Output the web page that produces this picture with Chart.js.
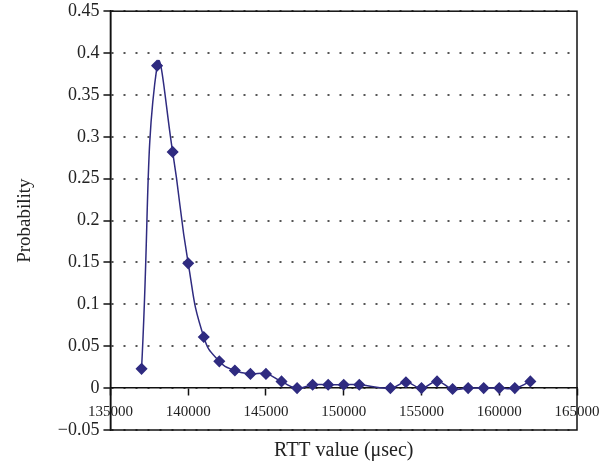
<!DOCTYPE html>
<html>
<head>
<meta charset="utf-8">
<script src="https://cdn.jsdelivr.net/npm/chart.js@4/dist/chart.umd.min.js"></script>
<style>
  html, body { margin: 0; padding: 0; background: #fff; }
  #wrap { width: 615px; height: 468px; }
</style>
</head>
<body>
<div id="wrap"><canvas id="chart"></canvas></div>
<script>
// RTT histogram values
const rttValues = [137000, 138000, 139000, 140000, 141000, 142000, 143000, 144000, 145000,
    146000, 147000, 148000, 149000, 150000, 151000, 153000, 154000, 155000, 156000,
    157000, 158000, 159000, 160000, 161000, 162000];
const probability = [0.023, 0.385, 0.282, 0.149, 0.061, 0.032, 0.021, 0.017, 0.017,
    0.008, 0.000, 0.004, 0.004, 0.004, 0.004, 0.000, 0.007, 0.000, 0.008,
    -0.001, 0.000, 0.000, 0.000, 0.000, 0.008];

const xTicks = [135000, 140000, 145000, 150000, 155000, 160000, 165000];
const yTicks = [-0.05, 0, 0.05, 0.1, 0.15, 0.2, 0.25, 0.3, 0.35, 0.4, 0.45];

const navy = '#2f2b80';
const serif = 'Liberation Serif';

// box round the plot area
const frame = {
    id: 'frame',
    beforeDatasetsDraw(chart) {
        const { ctx, chartArea: a } = chart;
        ctx.save();
        ctx.strokeStyle = '#111';
        ctx.lineWidth = 1.5;
        ctx.strokeRect(a.left, a.top, a.right - a.left, a.bottom - a.top);
        ctx.restore();
    }
};

function yLabel(v) {
    const s = String(Math.round(v * 100) / 100);
    return s.replace('-', '\u2212');
}

new Chart(document.getElementById('chart'), {
    type: 'line',
    data: {
        datasets: [{
            data: rttValues.map((x, i) => ({ x: x, y: probability[i] })),
            borderColor: navy,
            backgroundColor: navy,
            borderWidth: 1.5,
            tension: 0.5,
            pointStyle: 'rectRot',
            pointRadius: 5,
            pointHoverRadius: 5,
            fill: false
        }]
    },
    options: {
        responsive: true,
        maintainAspectRatio: false,
        animation: false,
        layout: { padding: { left: 10, right: 38, top: 0, bottom: 1 } },
        plugins: {
            legend: { display: false },
            tooltip: { enabled: false }
        },
        scales: {
            x: {
                type: 'linear',
                position: { y: 0 },
                min: 135000,
                max: 165000,
                afterBuildTicks: s => { s.ticks = xTicks.map(v => ({ value: v })); },
                ticks: {
                    color: '#222',
                    font: { family: serif, size: 15 },
                    padding: 8,
                    maxRotation: 0,
                    autoSkip: false,
                    callback: v => String(v)
                },
                grid: {
                    drawOnChartArea: false,
                    drawTicks: true,
                    tickLength: 7,
                    tickColor: '#111',
                    tickWidth: 1.5
                },
                border: { display: true, color: '#111', width: 1.5 }
            },
            x2: {
                type: 'linear',
                position: 'bottom',
                min: 135000,
                max: 165000,
                ticks: { display: false },
                grid: { display: false, drawTicks: false },
                border: { display: false },
                title: {
                    display: true,
                    text: 'RTT value (\u03bcsec)',
                    color: '#222',
                    font: { family: serif, size: 20 },
                    padding: { top: 9, bottom: 4 }
                }
            },
            y: {
                min: -0.05,
                max: 0.45,
                afterBuildTicks: s => { s.ticks = yTicks.map(v => ({ value: v })); },
                ticks: {
                    color: '#222',
                    font: { family: serif, size: 18, lineHeight: 0.8 },
                    padding: 4,
                    callback: v => yLabel(v)
                },
                grid: {
                    color: '#555',
                    lineWidth: 2,
                    drawTicks: true,
                    tickLength: 7,
                    tickColor: '#111',
                    tickWidth: 1.5,
                    tickBorderDash: []
                },
                border: { display: true, color: '#111', width: 1.5, dash: [2, 10], dashOffset: 0 },
                title: {
                    display: true,
                    text: 'Probability',
                    color: '#222',
                    font: { family: serif, size: 19 },
                    padding: { top: 4, bottom: 17 }
                }
            }
        }
    },
    plugins: [frame]
});
</script>
</body>
</html>
